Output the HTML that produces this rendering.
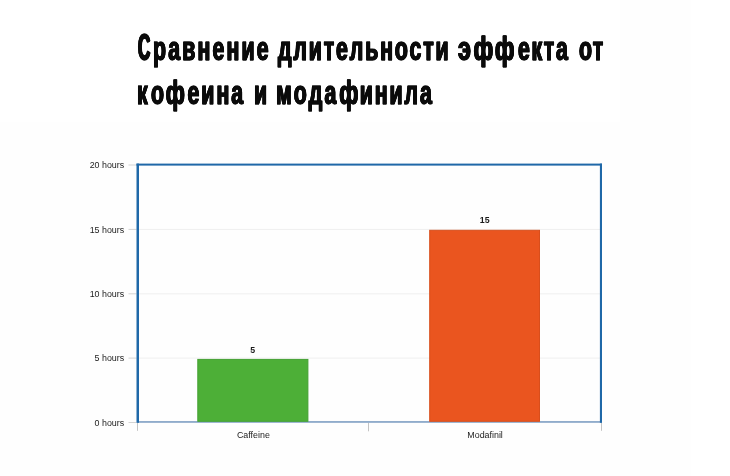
<!DOCTYPE html>
<html lang="ru">
<head>
<meta charset="utf-8">
<title>Сравнение длительности эффекта от кофеина и модафинила</title>
<style>
html,body{margin:0;padding:0;}
body{width:730px;height:476px;position:relative;overflow:hidden;background:#fff;font-family:"Liberation Sans",Arial,sans-serif;}
.bg{position:absolute;left:0;top:0;width:691px;height:476px;background:#fefefe;}
.titlebox{position:absolute;left:0;top:0;width:620px;height:122px;background:#fff;}
h1{position:absolute;left:0;top:0;margin:0;font-size:32.6px;line-height:44px;font-weight:bold;color:#0b0b0b;white-space:nowrap;}
h1 .w{position:absolute;display:block;transform-origin:0 0;transform:scaleX(0.652);-webkit-text-stroke:1.3px currentColor;text-shadow:-0.8px 0 0,0.8px 0 0,-0.4px 0 0,0.4px 0 0;}
h1 .w span{display:inline-block;line-height:0;transform-origin:0 50%;}
h1 .w .c{font-size:36.6px;text-shadow:-1.8px 0 0,1.8px 0 0,-0.9px 0 0,0.9px 0 0;}
svg{position:absolute;left:0;top:0;}
svg text{font-family:"Liberation Sans",Arial,sans-serif;}
.yl{font-size:8.9px;fill:#1c1c1c;text-anchor:end;}
.xl{font-size:8.9px;fill:#1c1c1c;text-anchor:middle;}
.vl{font-size:8.8px;font-weight:bold;fill:#1c1c1c;text-anchor:middle;}
</style>
</head>
<body>
<div class="bg"></div>
<div class="titlebox"></div>
<h1><span class="w" style="left:138px;top:27px;letter-spacing:3.36px"><span class="c" style="transform:scaleX(0.7130);margin:0 -6.64px 0 0.00px;">С</span>равнение</span>
<span class="w" style="left:278px;top:27px;letter-spacing:2.92px">длительности</span>
<span class="w" style="left:458px;top:27px;letter-spacing:2.64px"><span style="transform:scaleX(1.1072);margin:0 0.00px 0 0.00px;">э</span><span style="transform:scaleX(1.0475);margin:0 5.59px 0 3.40px;">фф</span>екта</span>
<span class="w" style="left:579px;top:27px;letter-spacing:2.14px">от</span>
<span class="w" style="left:137px;top:71px;letter-spacing:3.13px"><span style="letter-spacing:5.44px;">ко</span><span style="transform:scaleX(1.0266);margin:0 1.36px 0 -2.25px;">ф</span>еина</span>
<span class="w" style="left:254px;top:71px;letter-spacing:4.00px"><span style="transform:scaleX(1.0040);margin:0 0.00px 0 0.00px;">и</span></span>
<span class="w" style="left:276px;top:71px;letter-spacing:2.93px"><span style="letter-spacing:3.56px;">мода</span><span style="transform:scaleX(1.0307);margin:0 0.44px 0 0.55px;">ф</span>инила</span></h1>

<svg width="730" height="476" viewBox="0 0 730 476">
  <!-- plot background -->
  <rect x="138" y="165" width="463" height="257" fill="#fefefe"/>
  <!-- grid lines -->
  <rect x="139" y="228.9" width="461" height="1" fill="#efefef"/>
  <rect x="139" y="293.3" width="461" height="1" fill="#efefef"/>
  <rect x="139" y="357.6" width="461" height="1" fill="#efefef"/>
  <!-- y ticks -->
  <rect x="128.5" y="164.5" width="8" height="1" fill="#d4d4d4"/>
  <rect x="128.5" y="228.9" width="8" height="1" fill="#d4d4d4"/>
  <rect x="128.5" y="293.3" width="8" height="1" fill="#d4d4d4"/>
  <rect x="128.5" y="357.6" width="8" height="1" fill="#d4d4d4"/>
  <rect x="128.5" y="422" width="8" height="1" fill="#d4d4d4"/>
  <!-- x ticks -->
  <rect x="137" y="422.8" width="1" height="8" fill="#c4c4c4"/>
  <rect x="368" y="422.8" width="1" height="8.5" fill="#c4c4c4"/>
  <rect x="601" y="422.8" width="1" height="8" fill="#c4c4c4"/>
  <!-- bottom axis -->
  <rect x="137" y="421.2" width="465" height="1.5" fill="#7598bf"/>
  <!-- bars -->
  <rect x="197.8" y="359.4" width="110.1" height="61.9" fill="#4daf37" stroke="#44a032" stroke-width="1"/>
  <rect x="429.7" y="230.3" width="109.8" height="191" fill="#ea551f" stroke="#d84e1c" stroke-width="1"/>
  <!-- frame -->
  <rect x="136.5" y="163.6" width="2.5" height="259.2" fill="#1f68a8"/>
  <rect x="136.5" y="163.6" width="465.5" height="2" fill="#1f68a8"/>
  <rect x="599.9" y="163.6" width="2.1" height="259.2" fill="#1f68a8"/>
  <!-- labels -->
  <text class="yl" x="124.2" y="168.1">20 hours</text>
  <text class="yl" x="124.2" y="232.5">15 hours</text>
  <text class="yl" x="124.2" y="296.9">10 hours</text>
  <text class="yl" x="124.2" y="361.2">5 hours</text>
  <text class="yl" x="124.2" y="425.6">0 hours</text>
  <text class="vl" x="252.6" y="352.8">5</text>
  <text class="vl" x="484.7" y="223.3">15</text>
  <text class="xl" x="253.4" y="438">Caffeine</text>
  <text class="xl" x="485.1" y="438">Modafinil</text>
</svg>
</body>
</html>
